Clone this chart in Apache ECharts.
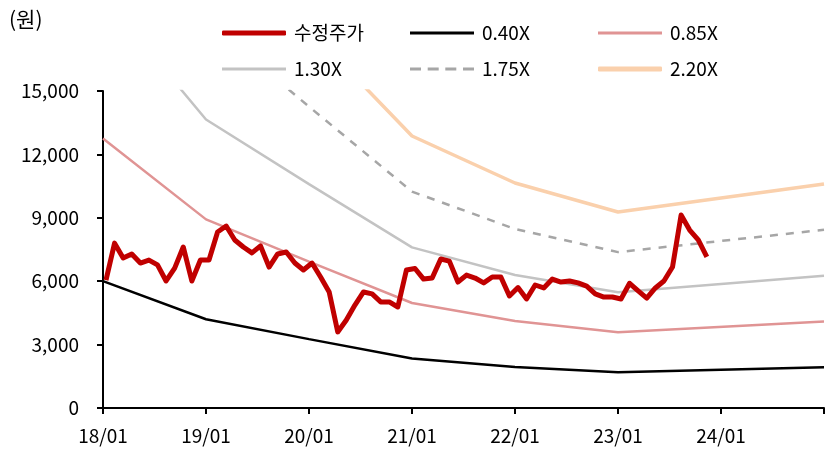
<!DOCTYPE html>
<html>
<head>
<meta charset="utf-8">
<script src="https://cdn.jsdelivr.net/npm/echarts@6/dist/echarts.min.js"></script>
<style>
  html, body { margin: 0; padding: 0; background: #fff; }
  #chart { width: 827px; height: 451px; }
</style>
</head>
<body>
<div id="chart"></div>
<script>
// Monthly adjusted share price, Jan 2018 onward (won)
const priceName = '수정주가';
const price = [
  6050, 7800, 7100, 7290, 6860, 7000, 6770, 6010, 6620, 7620, 6010, 7000,
  7000, 8330, 8610, 7950, 7620, 7340, 7670, 6670, 7290, 7380, 6860, 6530,
  6860, 6200, 5490, 3600, 4160, 4870, 5490, 5400, 5020, 5020, 4780, 6530,
  6600, 6100, 6150, 7050, 6950, 5960, 6290, 6150, 5920, 6200, 6200, 5300,
  5700, 5160, 5820, 5680, 6100, 5960, 6010, 5920, 5770, 5400, 5250, 5250,
  5160, 5900, 5540, 5200, 5680, 6010, 6670, 9130, 8420, 7950, 7150
];

// PBR band knots (month index from 18/01) and band values
const bandMonths = [0, 12, 24, 36, 48, 60, 84];
const band040 = [6000, 4200, 3260, 2340, 1936, 1686, 1927];
const band085 = [12750, 8925, 6930, 4970, 4114, 3583, 4095];
const band130 = [19500, 13650, 10595, 7600, 6292, 5480, 6263];
const band175 = [26250, 18375, 14260, 10240, 8470, 7376, 8432];
const band220 = [33000, 23100, 17930, 12870, 10648, 9273, 10600];

const xTickLabels = ['18/01', '19/01', '20/01', '21/01', '22/01', '23/01', '24/01', ''];
const yMin = 0, yMax = 15000, yStep = 3000;

const FONT = '"Noto Sans CJK KR", "Noto Sans", sans-serif';
const pricePts = price.map((v, i) => [i + 0.35, v]);
const pair = arr => bandMonths.map((m, i) => [m, arr[i]]);

const C_PRICE = '#C00000', C_040 = '#000000', C_085 = '#E09494',
      C_130 = '#C3C3C3', C_175 = '#A6A6A6', C_220 = '#FAD0AC';

function bandSeries(name, arr, color, width, type) {
  return {
    name, type: 'line', data: pair(arr), symbol: 'none', showSymbol: false,
    lineStyle: { color, width, type: type || 'solid' },
    itemStyle: { color }, z: 2
  };
}

// one legend entry per component so each swatch can have its own thickness
const DASH_ICON = 'path://M0,0h11v3h-11z M17.7,0h11v3h-11z M35.3,0h11v3h-11z M53,0h11v3h-11z';
function legendItem(name, left, top, h, color, icon) {
  return {
    data: [{ name, icon: icon || 'roundRect' }],
    left, top, padding: 0, itemWidth: 64, itemHeight: h,
    itemStyle: { color, borderWidth: 0 }, lineStyle: { width: 0 },
    textStyle: { fontSize: 19, color: '#000', fontFamily: FONT, lineHeight: 22, padding: [0, 0, 0, 3] },
    selectedMode: false
  };
}

const chart = echarts.init(document.getElementById('chart'));

chart.setOption({
  animation: false,
  textStyle: { fontFamily: FONT },
  grid: { left: 103, right: 2, top: 91, bottom: 43 },
  graphic: [{
    type: 'text', left: 9, top: 9,
    style: { text: '(원)', fontSize: 21, fill: '#000', fontFamily: FONT }
  }],
  legend: [
    legendItem(priceName, 222, 22, 5, C_PRICE),
    legendItem('0.40X', 410, 22, 3, C_040, 'rect'),
    legendItem('0.85X', 598, 22, 3, C_085, 'rect'),
    legendItem('1.30X', 222, 58, 3, C_130, 'rect'),
    legendItem('1.75X', 410, 58, 3, C_175, DASH_ICON),
    legendItem('2.20X', 598, 58, 5, C_220, 'roundRect')
  ],
  xAxis: {
    type: 'value', min: 0, max: 84, interval: 12,
    axisLine: { show: true, lineStyle: { color: '#000', width: 2 } },
    axisTick: { show: true, length: 6, lineStyle: { color: '#000', width: 2 } },
    axisLabel: {
      fontSize: 19, color: '#000', margin: 18, fontFamily: FONT,
      formatter: v => xTickLabels[Math.round(v / 12)] || ''
    },
    splitLine: { show: false }
  },
  yAxis: {
    type: 'value', min: yMin, max: yMax, interval: yStep,
    axisLine: { show: true, lineStyle: { color: '#000', width: 2 } },
    axisTick: { show: true, length: 6, lineStyle: { color: '#000', width: 2 } },
    axisLabel: {
      fontSize: 19, color: '#000', margin: 24, fontFamily: FONT,
      formatter: v => v.toLocaleString('en-US')
    },
    splitLine: { show: false }
  },
  series: [
    {
      name: priceName, type: 'line', data: pricePts, symbol: 'none', showSymbol: false,
      lineStyle: { color: C_PRICE, width: 5, join: 'round' },
      itemStyle: { color: C_PRICE }, z: 5
    },
    bandSeries('0.40X', band040, C_040, 2.5),
    bandSeries('0.85X', band085, C_085, 2.5),
    bandSeries('1.30X', band130, C_130, 2.5),
    bandSeries('1.75X', band175, C_175, 2.5, [8, 8]),
    bandSeries('2.20X', band220, C_220, 3.5)
  ]
});
</script>
</body>
</html>
